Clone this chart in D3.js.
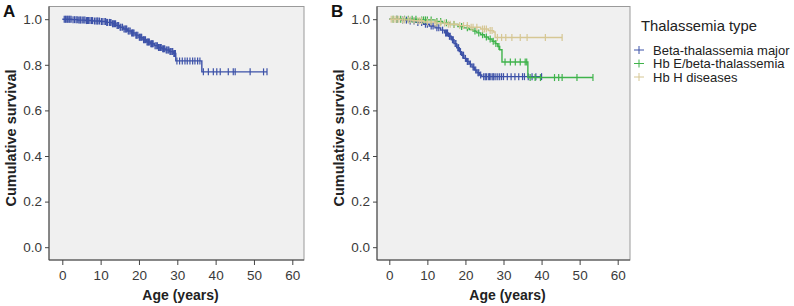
<!DOCTYPE html>
<html>
<head>
<meta charset="utf-8">
<script src="https://cdn.jsdelivr.net/npm/d3@7"></script>
<style>
  html, body { margin: 0; padding: 0; background: #fff; }
  svg { display: block; font-family: "Liberation Sans", Arial, sans-serif; }
</style>
</head>
<body>
<div id="chart"></div>
<script>
// ---- data ----
const xTicks = [0, 10, 20, 30, 40, 50, 60];
const yTicks = [0, 0.2, 0.4, 0.6, 0.8, 1.0];
const seriesNames = ['Beta-thalassemia major', 'Hb E/beta-thalassemia', 'Hb H diseases'];
const seriesColors = ['#3d52a8', '#3fb34b', '#d6c794'];

// panel A, all patients: [age, survival] steps, last follow-up, censored ages
const allSteps = [[0, 1.0], [2.5, 0.998], [4, 0.996], [6, 0.994], [8, 0.992], [10, 0.99],
  [11.5, 0.986], [13, 0.98], [14, 0.972], [15, 0.965], [16, 0.957], [17, 0.948], [18, 0.94],
  [19, 0.93], [20, 0.921], [21, 0.91], [22, 0.9], [23, 0.892], [24, 0.884], [25, 0.876],
  [26, 0.87], [27, 0.865], [28, 0.858], [29, 0.85], [29.6, 0.817], [36.4, 0.769]];
const allEnd = 53.4;
const allCensor = [0.5, 0.8, 1, 1.3, 1.5, 1.8, 2, 2.3, 2.8, 3.2, 3.6, 3.9, 4.3, 4.6, 4.8, 5.2,
  5.6, 5.9, 6.3, 6.6, 6.8, 7.2, 7.6, 7.9, 8.4, 8.8, 9.1, 9.3, 9.7, 10.2, 10.4, 10.9, 11.3, 11.6,
  11.8, 12.3, 12.5, 12.7, 13.1, 13.3, 13.6, 13.9, 14.3, 14.5, 14.7, 15.1, 15.3, 15.7, 16.1,
  16.4, 16.6, 16.8, 17.2, 17.4, 17.7, 18.1, 18.3, 18.5, 18.7, 19.2, 19.4, 19.7, 20.1, 20.3,
  20.5, 20.7, 21.2, 21.4, 21.7, 22.1, 22.3, 22.5, 22.7, 23.1, 23.3, 23.5, 23.7, 24.2, 24.5,
  24.8, 25.1, 25.3, 25.6, 25.8, 26.2, 26.4, 26.7, 27.1, 27.3, 27.6, 27.8, 28.1, 28.3, 28.6,
  28.8, 29.1, 29.3, 29.5, 29.9, 30.6, 31.3, 32, 32.6, 33.3, 34, 34.6, 35.3, 35.9, 36.8, 38.1,
  39.4, 40.3, 41.2, 43.3, 44.6, 45.1, 49, 52.5, 53.4];

// panel B, by thalassemia type
const betaSteps = [[0, 1.0], [3, 0.996], [5, 0.992], [7, 0.986], [9, 0.978], [10.5, 0.97],
  [12, 0.962], [13.5, 0.952], [14.5, 0.94], [15.5, 0.925], [16.3, 0.91], [17, 0.893],
  [17.7, 0.875], [18.4, 0.858], [19, 0.842], [19.6, 0.828], [20.3, 0.815], [21, 0.803],
  [21.7, 0.79], [22.4, 0.777], [23, 0.765], [23.7, 0.755], [24.3, 0.748]];
const betaEnd = 40;
const betaCensor = [2, 3.5, 4.5, 5.5, 6.5, 7.5, 8.5, 9.5, 10, 11, 11.5, 12.5, 13, 14, 14.8,
  15, 15.3, 15.8, 16, 16.6, 16.8, 17.3, 17.5, 18, 18.2, 18.7, 19.3, 19.5, 20, 20.5, 20.7, 21.3,
  22, 22.2, 22.7, 23.3, 23.5, 24, 24.8, 25.2, 25.5, 26, 26.3, 26.5, 27, 27.3, 27.5, 28, 28.5,
  29, 29.5, 30, 31, 32, 33, 34, 35, 35.5, 36.5, 37.5, 38.5, 40];

const hbeSteps = [[0, 1.0], [8, 0.997], [12, 0.99], [14, 0.984], [16, 0.977], [18, 0.968],
  [19.5, 0.962], [21, 0.955], [22, 0.948], [23, 0.94], [24, 0.932], [25, 0.922], [26, 0.913],
  [27, 0.903], [27.8, 0.893], [28.5, 0.88], [29, 0.866], [29.6, 0.812], [36.4, 0.744]];
const hbeEnd = 53.5;
const hbeCensor = [1, 2, 3, 4, 5, 6, 7, 8.5, 9, 9.5, 10, 11, 12.5, 13.5, 15, 17, 19, 20.5,
  22.5, 23.5, 24.5, 25.5, 26.5, 27.3, 28, 28.8, 30.4, 31.8, 33.1, 34.4, 35.7, 36.1, 37, 38.3,
  39.7, 43.4, 44.5, 45.4, 49.3, 53.5];

const hbhSteps = [[0, 1.0], [3, 0.997], [6, 0.993], [9, 0.988], [12, 0.983], [15, 0.978],
  [18, 0.972], [21, 0.965], [24, 0.957], [26, 0.95], [27.4, 0.944], [27.8, 0.92]];
const hbhEnd = 45.4;
const hbhCensor = [0.5, 1, 1.5, 2, 2.5, 3.5, 4, 5, 5.5, 6.5, 7.5, 8, 8.5, 10, 11, 12, 12.5,
  13.5, 14.5, 15.5, 16, 17, 18.5, 19.5, 20.5, 21.5, 22, 23, 24.5, 25, 25.5, 26.5, 27, 28.4,
  29.5, 30.6, 32.2, 34.4, 36.2, 41, 45.4];

// ---- drawing ----
const W = 794, H = 306;
const svg = d3.select('#chart').append('svg')
  .attr('width', W)
  .attr('height', H);

function survivalAt(steps, t) {
  const i = d3.bisector((d) => d[0]).right(steps, t) - 1;
  return steps[Math.max(i, 0)][1];
}

function drawPanel(p) {
  const g = svg.append('g');
  const x = d3.scaleLinear().domain([0, 60]).range([p.x0, p.x60]);
  const y = d3.scaleLinear().domain([0, 1]).range([247.2, 19.2]);

  g.append('rect')
    .attr('x', p.left).attr('y', p.top)
    .attr('width', p.right - p.left).attr('height', p.bottom - p.top)
    .attr('fill', '#f0f0f0')
    .attr('stroke', '#9a9a9a')
    .attr('stroke-width', 1);

  const yAxis = d3.axisLeft(y)
    .tickValues(yTicks)
    .tickFormat(d3.format('.1f'))
    .tickSize(4)
    .tickPadding(3);
  const ya = g.append('g')
    .attr('transform', `translate(${p.left},0)`)
    .call(yAxis);

  const xAxis = d3.axisBottom(x)
    .tickValues(xTicks)
    .tickSize(5)
    .tickPadding(5);
  const xa = g.append('g')
    .attr('transform', `translate(0,${p.bottom})`)
    .call(xAxis);

  [ya, xa].forEach((a) => {
    a.select('.domain').remove();
    a.selectAll('line').attr('stroke', '#444');
    a.selectAll('text')
      .attr('fill', '#3a3a3a')
      .style('font-size', '13.5px')
      .style('font-family', '"Liberation Sans", Arial, sans-serif');
  });

  // axis lines
  g.append('line')
    .attr('x1', p.left).attr('x2', p.left)
    .attr('y1', p.top).attr('y2', p.bottom)
    .attr('stroke', '#444');
  g.append('line')
    .attr('x1', p.left).attr('x2', p.right)
    .attr('y1', p.bottom).attr('y2', p.bottom)
    .attr('stroke', '#444');

  g.append('text')
    .attr('x', (p.left + p.right) / 2 + 4)
    .attr('y', 300)
    .attr('text-anchor', 'middle')
    .style('font-size', '14px')
    .style('font-weight', 'bold')
    .attr('fill', '#222')
    .text('Age (years)');

  g.append('text')
    .attr('transform', `translate(${p.left - 33},${138}) rotate(-90)`)
    .attr('text-anchor', 'middle')
    .style('font-size', '14.5px')
    .style('font-weight', 'bold')
    .attr('fill', '#222')
    .text('Cumulative survival');

  g.append('text')
    .attr('x', p.left - 46)
    .attr('y', 17)
    .style('font-size', '17px')
    .style('font-weight', 'bold')
    .attr('fill', '#111')
    .text(p.label);

  const line = d3.line()
    .x((d) => x(d[0]))
    .y((d) => y(d[1]))
    .curve(d3.curveStepAfter);

  p.series.forEach((s) => {
    const pts = s.steps.concat([[s.end, s.steps[s.steps.length - 1][1]]]);
    g.append('path')
      .datum(pts)
      .attr('d', line)
      .attr('fill', 'none')
      .attr('stroke', s.color)
      .attr('stroke-width', 1.4);

    g.selectAll(null)
      .data(s.censor)
      .enter()
      .append('line')
      .attr('x1', (d) => x(d))
      .attr('x2', (d) => x(d))
      .attr('y1', (d) => y(survivalAt(s.steps, d)) - 3.5)
      .attr('y2', (d) => y(survivalAt(s.steps, d)) + 3.5)
      .attr('stroke', s.color)
      .attr('stroke-width', 1.2);
  });
}

drawPanel({
  label: 'A', left: 49, right: 304, top: 6.5, bottom: 260, x0: 62.3, x60: 292.3,
  series: [{ steps: allSteps, end: allEnd, censor: allCensor, color: seriesColors[0] }],
});

drawPanel({
  label: 'B', left: 377, right: 630, top: 6.5, bottom: 260, x0: 389.3, x60: 617.7,
  series: [
    { steps: betaSteps, end: betaEnd, censor: betaCensor, color: seriesColors[0] },
    { steps: hbeSteps, end: hbeEnd, censor: hbeCensor, color: seriesColors[1] },
    { steps: hbhSteps, end: hbhEnd, censor: hbhCensor, color: seriesColors[2] },
  ],
});

// legend
const legend = svg.append('g').attr('transform', 'translate(641,0)');
legend.append('text')
  .attr('x', 0).attr('y', 31)
  .style('font-size', '14.8px')
  .attr('fill', '#222')
  .text('Thalassemia type');

const items = legend.selectAll('.item')
  .data(seriesNames)
  .enter()
  .append('g')
  .attr('class', 'item')
  .attr('transform', (d, i) => `translate(0,${50 + i * 13.5})`);

items.append('line')
  .attr('x1', -7).attr('x2', 3).attr('y1', 0).attr('y2', 0)
  .attr('stroke', (d, i) => seriesColors[i]);
items.append('line')
  .attr('x1', -2).attr('x2', -2).attr('y1', -4).attr('y2', 4)
  .attr('stroke', (d, i) => seriesColors[i]);
items.append('text')
  .attr('x', 12).attr('y', 4.5)
  .style('font-size', '13px')
  .attr('fill', '#222')
  .text((d) => d);
</script>
</body>
</html>
